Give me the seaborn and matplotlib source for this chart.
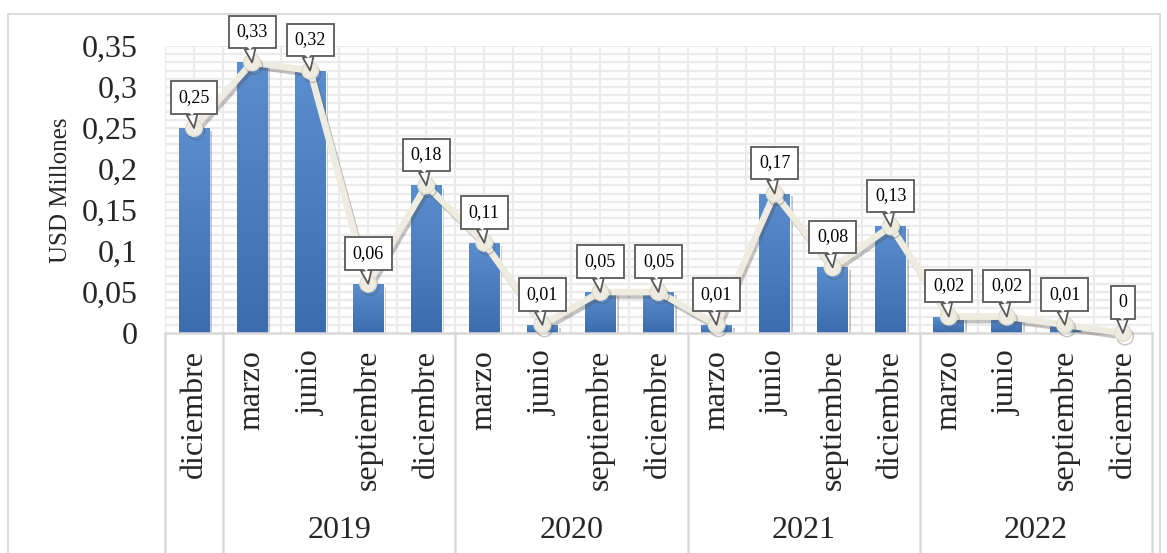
import numpy as np
import pandas as pd
import matplotlib
matplotlib.use("Agg")
import matplotlib.pyplot as plt
import matplotlib.patheffects as pe
from matplotlib.colors import LinearSegmentedColormap
from matplotlib.patches import Rectangle
from matplotlib.transforms import blended_transform_factory
import seaborn as sns

# Quarterly values (USD millions)
months = ["diciembre",
          "marzo", "junio", "septiembre", "diciembre",
          "marzo", "junio", "septiembre", "diciembre",
          "marzo", "junio", "septiembre", "diciembre",
          "marzo", "junio", "septiembre", "diciembre"]
values = [0.25, 0.33, 0.32, 0.06, 0.18, 0.11, 0.01, 0.05, 0.05,
          0.01, 0.17, 0.08, 0.13, 0.02, 0.02, 0.01, 0.0]
years = ["2019", "2020", "2021", "2022"]
year_spans = [(1, 4), (5, 8), (9, 12), (13, 16)]
group_breaks = [-0.5, 0.5, 4.5, 8.5, 12.5, 16.5]
ytick_vals = [0, 0.05, 0.1, 0.15, 0.2, 0.25, 0.3, 0.35]
ylabel = "USD Millones"


def fmt(v):
    s = f"{v:.2f}".rstrip("0").rstrip(".")
    return s.replace(".", ",") if s else "0"


df = pd.DataFrame({"pos": np.arange(len(values)), "mes": months, "valor": values})

sns.set_theme(style="white")
plt.rcParams["font.family"] = ["Liberation Serif", "DejaVu Serif"]

W, H = 1167, 553
fig = plt.figure(figsize=(W / 100, H / 100), dpi=100)
L, R, T, B = 165, 1152, 46, 333
ax = fig.add_axes([L / W, 1 - B / H, (R - L) / W, (B - T) / H])

# outer chart frame
fig.patches.append(Rectangle((8 / W, -0.05), (1160 - 8) / W, 1.05 - 14 / H,
                             transform=fig.transFigure, fill=False,
                             ec="#d9d9d9", lw=1.3, zorder=0))

# grid: every 0.01 horizontally, every half category vertically
grid_c = "#ebebeb"
for y in np.arange(0.01, 0.351, 0.01):
    ax.axhline(y, color=grid_c, lw=1.6, zorder=0)
for x in np.arange(-0.5, 16.51, 0.5):
    ax.axvline(x, color=grid_c, lw=1.6, zorder=0)

sns.barplot(data=df, x="pos", y="valor", ax=ax, width=0.53,
            color="#4a7ebf", saturation=1, zorder=2)

# vertical gradient on each bar
cmap = LinearSegmentedColormap.from_list("barfill", ["#3a6cae", "#5b8ecf"])
grad = np.linspace(0, 1, 256).reshape(-1, 1)
for p in list(ax.patches):
    p.set_path_effects([pe.SimplePatchShadow(offset=(2, -2), alpha=0.25), pe.Normal()])
    x0, y0, w, h = p.get_x(), p.get_y(), p.get_width(), p.get_height()
    if h <= 0:
        continue
    im = ax.imshow(grad, cmap=cmap, origin="lower", aspect="auto",
                   extent=(x0, x0 + w, y0, y0 + h), zorder=2.1)
    im.set_clip_path(p)

sns.lineplot(data=df, x="pos", y="valor", ax=ax, color="#eeece1", lw=4.8,
             marker="o", markersize=12, markeredgecolor="#e0ddcf",
             markeredgewidth=1, zorder=4)
for ln in ax.lines[-1:]:
    ln.set_path_effects([pe.SimpleLineShadow(offset=(1.5, -2.5), shadow_color="#555555",
                                             alpha=0.35), pe.Normal()])
    ln.set_clip_on(False)

# callout labels: boxed value with a pointer to the point
for i, v in enumerate(values):
    ax.annotate(fmt(v), xy=(i, v), xytext=(0, 22), textcoords="offset points",
                ha="center", va="center", fontsize=13, color="black", zorder=6,
                bbox=dict(boxstyle="square,pad=0.43", fc="white", ec="#595959", lw=1.3),
                arrowprops=dict(arrowstyle="wedge,tail_width=0.6", fc="white",
                                ec="#595959", lw=1.3, relpos=(0.4, 0.0),
                                shrinkA=0, shrinkB=0),
                annotation_clip=False)
    # white wedge opening the box edge where the pointer joins
    ax.annotate(fmt(v), xy=(i, v), xytext=(0, 22), textcoords="offset points",
                ha="center", va="center", fontsize=13, color=(0, 0, 0, 0), zorder=7,
                arrowprops=dict(arrowstyle="wedge,tail_width=0.6", fc="white",
                                ec="none", lw=0, relpos=(0.4, 0.0),
                                shrinkA=0, shrinkB=9),
                annotation_clip=False)

ax.set_xlim(-0.5, 16.5)
ax.set_ylim(0, 0.35)
ax.set_yticks(ytick_vals)
ax.set_yticklabels([fmt(v) for v in ytick_vals], fontsize=23)
ax.set_xticks(df["pos"])
ax.set_xticklabels(df["mes"], rotation=90, fontsize=23)
ax.tick_params(axis="both", length=0)
ax.tick_params(axis="x", pad=12)
ax.tick_params(axis="y", pad=19.5)
ax.set_xlabel("")
ax.set_ylabel("")
for s in ["top", "right", "left"]:
    ax.spines[s].set_visible(False)
ax.spines["bottom"].set_color("#d9d9d9")
ax.spines["bottom"].set_linewidth(1.8)
ax.spines["bottom"].set_zorder(3)

# multi-level category axis: group separators and year labels
trans = blended_transform_factory(ax.transData, ax.transAxes)
y_bottom = -(H - B) / (B - T) - 0.05
for xb in group_breaks:
    ax.plot([xb, xb], [0, y_bottom], transform=trans, color="#d9d9d9",
            lw=1.8, clip_on=False, zorder=1)
for yr, (a, b) in zip(years, year_spans):
    ax.text((a + b) / 2, -(531 - B) / (B - T), yr, transform=trans,
            ha="center", va="center", fontsize=23)

fig.text(61 / W, 1 - 190 / H, ylabel, rotation=90, ha="center", va="center",
         fontsize=18)

fig.savefig("out.png", dpi=100, facecolor="white")
